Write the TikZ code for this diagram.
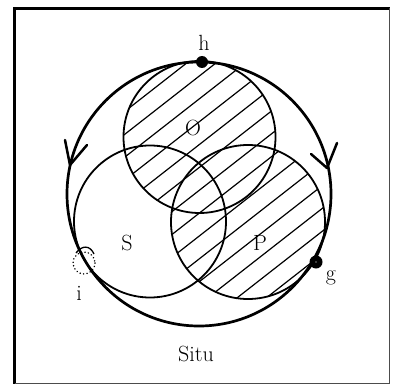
\documentclass[tikz,border=0pt]{standalone}
\usepackage{fontspec}
\setmainfont{Latin Modern Roman}
\begin{document}
\begin{tikzpicture}[x=1pt,y=-1pt,
  ring/.style={line width=1.8pt},
  outer/.style={line width=2.7pt},
  hatch/.style={line width=1.2pt},
  lbl/.style={font=\fontsize{22}{26}\selectfont, inner sep=0pt},
  arrowarm/.style={line width=2.5pt, line cap=round, line join=round},
  dot/.style={circle, fill=black, inner sep=0pt}]
\useasboundingbox (0,0) rectangle (395,385);
\fill[white] (0,0) rectangle (395,385);
% frame
\coordinate (fBL) at (14.5,383.5);
\coordinate (fTL) at (14.5,8.5);
\coordinate (fTR) at (389.5,8.5);
\coordinate (fBR) at (389.5,383.5);
\draw[line width=2.2pt] (fBL) -- (fTL) -- (fTR);
\draw[line width=1pt, black!70] (fTR) -- (fBR) -- (fBL);
% hatching of O and P
\begin{scope}
  \clip (199.5,137) circle (76) (248,222) circle (77);
  \foreach \c in {110.6,128.6,...,470} {
    \draw[hatch] ({\c*0.616-315.2},{\c*0.788+246.4}) -- ({\c*0.616+315.2},{\c*0.788-246.4});
  }
\end{scope}
% circles
\draw[ring] (199.5,137) circle (76);
\draw[ring] (150,221.5) circle (76);
\draw[ring] (248,222) circle (77);
\draw[outer] (199,194) circle (132);
% arrow marks on the big circle
\coordinate (la) at (70,165);
\coordinate (la1) at (65,140);
\coordinate (la2) at (87,145);
\draw[arrowarm] (la1) -- (la) -- (la2);
\coordinate (ra) at (327,168);
\coordinate (ra1) at (311,154);
\coordinate (ra2) at (337,143);
\draw[arrowarm] (ra1) -- (ra) -- (ra2);
% points
\node[dot, minimum size=12pt] (h) at (202,62) {};
\node[dot, minimum size=13pt] (g) at (316,262) {};
\fill[white] (g) circle (0.6);
\coordinate (i) at (84,263);
\draw[line width=1.6pt, line cap=round, dash pattern=on 0.1pt off 3.4pt] (i) circle (11);
\draw[line width=1.3pt] (76,253) .. controls (82,245) and (90,245) .. (94,254);
% labels
\node[lbl] (hl) at (204,43) {h};
\node[lbl] (gl) at (331,278) {g};
\node[lbl] (il) at (79,293) {i};
\node[lbl] (ol) at (193,128) {O};
\node[lbl] (sl) at (127,243) {S};
\node[lbl] (pl) at (260,243) {P};
\node[lbl] (situ) at (196,354) {Situ};
\end{tikzpicture}
\end{document}
